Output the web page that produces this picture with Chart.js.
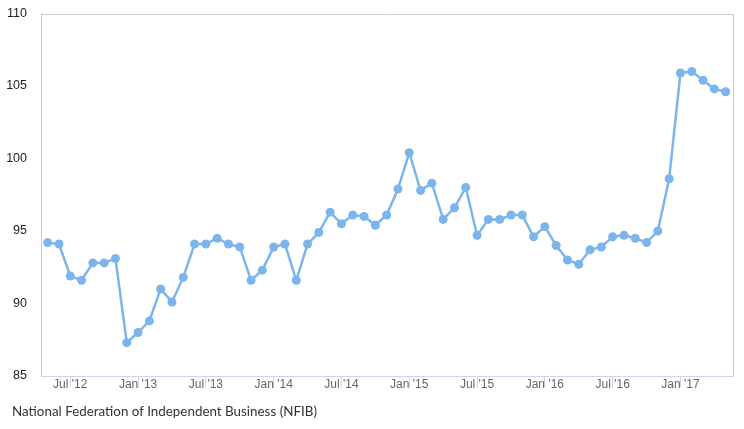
<!DOCTYPE html>
<html>
<head>
<meta charset="utf-8">
<script src="https://cdn.jsdelivr.net/npm/chart.js@4"></script>
<style>
  html, body { margin: 0; padding: 0; background: #fff; }
  #wrap { position: relative; width: 744px; height: 429px; }
  #source {
    position: absolute; left: 12px; top: 403px;
    font-family: Lato, "Open Sans", sans-serif; font-size: 13.4px; color: #333;
  }
</style>
</head>
<body>
<div id="wrap">
  <canvas id="nfibChart" width="744" height="429"></canvas>
  <div id="source">National Federation of Independent Business (NFIB)</div>
</div>
<script>
    // monthly index, May 2012 - May 2017
    const months = [
        'May 2012', 'Jun 2012', 'Jul 2012', 'Aug 2012', 'Sep 2012', 'Oct 2012', 'Nov 2012', 'Dec 2012',
        'Jan 2013', 'Feb 2013', 'Mar 2013', 'Apr 2013', 'May 2013', 'Jun 2013', 'Jul 2013', 'Aug 2013',
        'Sep 2013', 'Oct 2013', 'Nov 2013', 'Dec 2013', 'Jan 2014', 'Feb 2014', 'Mar 2014', 'Apr 2014',
        'May 2014', 'Jun 2014', 'Jul 2014', 'Aug 2014', 'Sep 2014', 'Oct 2014', 'Nov 2014', 'Dec 2014',
        'Jan 2015', 'Feb 2015', 'Mar 2015', 'Apr 2015', 'May 2015', 'Jun 2015', 'Jul 2015', 'Aug 2015',
        'Sep 2015', 'Oct 2015', 'Nov 2015', 'Dec 2015', 'Jan 2016', 'Feb 2016', 'Mar 2016', 'Apr 2016',
        'May 2016', 'Jun 2016', 'Jul 2016', 'Aug 2016', 'Sep 2016', 'Oct 2016', 'Nov 2016', 'Dec 2016',
        'Jan 2017', 'Feb 2017', 'Mar 2017', 'Apr 2017', 'May 2017'
    ];

    const optimism = [
        94.2, 94.1, 91.9, 91.6, 92.8, 92.8, 93.1, 87.3,
        88.0, 88.8, 91.0, 90.1, 91.8, 94.1, 94.1, 94.5,
        94.1, 93.9, 91.6, 92.3, 93.9, 94.1, 91.6, 94.1,
        94.9, 96.3, 95.5, 96.1, 96.0, 95.4, 96.1, 97.9,
        100.4, 97.8, 98.3, 95.8, 96.6, 98.0, 94.7, 95.8,
        95.8, 96.1, 96.1, 94.6, 95.3, 94.0, 93.0, 92.7,
        93.7, 93.9, 94.6, 94.7, 94.5, 94.2, 95.0, 98.6,
        105.9, 106.0, 105.4, 104.8, 104.6
    ];

    // labelled x ticks (index into months)
    const tickIndex = [2, 8, 14, 20, 26, 32, 38, 44, 50, 56];
    const tickLabels = ["Jul '12", "Jan '13", "Jul '13", "Jan '14", "Jul '14",
                        "Jan '15", "Jul '15", "Jan '16", "Jul '16", "Jan '17"];

    const yTicks = [85, 90, 95, 100, 105, 110];

    const ctx = document.getElementById('nfibChart').getContext('2d');

    // gray frame on top and right of the plot
    const frame = {
        id: 'frame',
        beforeDatasetsDraw(chart) {
            const a = chart.chartArea;
            const c = chart.ctx;
            c.save();
            c.strokeStyle = '#cccccc';
            c.lineWidth = 1;
            c.beginPath();
            c.moveTo(Math.round(a.left) + 0.5, Math.round(a.top) + 0.5);
            c.lineTo(Math.round(a.right) + 0.5, Math.round(a.top) + 0.5);
            c.lineTo(Math.round(a.right) + 0.5, Math.round(a.bottom));
            c.stroke();
            c.restore();
        }
    };

    new Chart(ctx, {
        type: 'line',
        data: {
            datasets: [{
                label: 'NFIB',
                data: optimism.map((v, i) => ({ x: i, y: v })),
                borderColor: '#7cb5ec',
                backgroundColor: '#7cb5ec',
                borderWidth: 2.5,
                pointRadius: 4.5,
                pointBorderWidth: 0,
                pointBackgroundColor: '#7cb5ec',
                tension: 0
            }]
        },
        options: {
            responsive: false,
            animation: false,
            layout: { padding: { top: 7, right: 11, bottom: 33, left: 0 } },
            plugins: {
                legend: { display: false },
                tooltip: {
                    callbacks: { title: items => months[items[0].parsed.x] }
                }
            },
            scales: {
                x: {
                    type: 'linear',
                    min: -0.59,
                    max: 60.65,
                    afterBuildTicks: scale => { scale.ticks = tickIndex.map(v => ({ value: v })); },
                    afterFit: scale => { scale.height = 20; },
                    grid: {
                        drawOnChartArea: false,
                        drawTicks: true,
                        tickLength: 11,
                        color: '#ccd6eb'
                    },
                    border: { color: '#ccd6eb' },
                    ticks: {
                        autoSkip: false,
                        maxRotation: 0,
                        padding: -10,
                        color: '#666666',
                        font: { family: '"Liberation Sans", Arial, sans-serif', size: 12 },
                        callback: v => tickLabels[tickIndex.indexOf(v)]
                    }
                },
                y: {
                    min: 85,
                    max: 110,
                    afterBuildTicks: scale => { scale.ticks = yTicks.map(v => ({ value: v })); },
                    afterFit: scale => { scale.width = 41; },
                    grid: { display: false },
                    border: { color: '#cccccc' },
                    ticks: {
                        padding: 6,
                        color: '#222222',
                        font: { family: '"Liberation Sans", Arial, sans-serif', size: 12.5 }
                    }
                }
            }
        },
        plugins: [frame]
    });
</script>
</body>
</html>
